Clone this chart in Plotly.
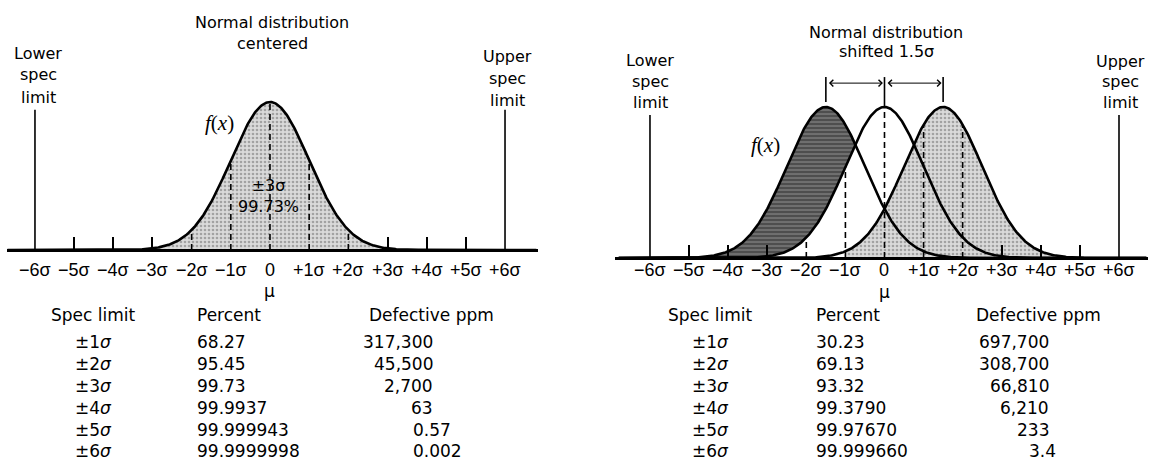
import numpy as np
import plotly.graph_objects as go

# ---------------- data ----------------
TICK_VALS = [-6, -5, -4, -3, -2, -1, 0, 1, 2, 3, 4, 5, 6]
TICK_TEXT = ["−6σ", "−5σ", "−4σ", "−3σ", "−2σ", "−1σ", "0",
             "+1σ", "+2σ", "+3σ", "+4σ", "+5σ", "+6σ"]
MINOR_TICKS = [-5, -4, -3, 3, 4, 5]

SPEC_LIMITS = ["±1<i>σ</i>", "±2<i>σ</i>", "±3<i>σ</i>",
               "±4<i>σ</i>", "±5<i>σ</i>", "±6<i>σ</i>"]
PCT_CENTERED = ["68.27", "95.45", "99.73", "99.9937", "99.999943", "99.9999998"]
PPM_CENTERED = ["317,300", "45,500", "2,700", "63", "0.57", "0.002"]
PCT_SHIFTED = ["30.23", "69.13", "93.32", "99.3790", "99.97670", "99.999660"]
PPM_SHIFTED = ["697,700", "308,700", "66,810", "6,210", "233", "3.4"]

SIGMA = 1.0
CENTER_MEAN = 0.0
SHIFT = 1.5
SHIFTED_MEANS = [-SHIFT, 0.0, SHIFT]
SPEC_LOWER, SPEC_UPPER = -6, 6
SHADE_CENTERED = [-3, 3]
DASH_CENTERED = [-2, -1, 0, 1, 2]
DASH_SHIFT_CENTER = [-2, -1, 0]
DASH_SHIFT_RIGHT = [1, 2]


def pdf(x, mu=0.0, s=SIGMA):
    return np.exp(-0.5 * ((x - mu) / s) ** 2) / (s * np.sqrt(2 * np.pi))


# ---------------- layout helpers ----------------
W, H = 1149, 465
def px(x):
    return x / W
def py(y):
    return 1 - y / H

SANS = "DejaVu Sans"
BLACK = "black"

fig = go.Figure()

# ================= LEFT PANEL =================
xl = np.linspace(-6.7, 6.8, 700)
xs = np.linspace(SHADE_CENTERED[0], SHADE_CENTERED[1], 300)
fig.add_trace(go.Scatter(
    x=np.concatenate([[xs[0]], xs, [xs[-1]]]),
    y=np.concatenate([[0], pdf(xs), [0]]),
    fill="toself", mode="lines", line=dict(width=0),
    fillcolor="#d6d6d6",
    fillpattern=dict(shape=".", fgcolor="#6a6a6a", bgcolor="#dadada", size=4, solidity=0.35),
    xaxis="x", yaxis="y", hoverinfo="skip", showlegend=False))
dx, dy = [], []
for v in DASH_CENTERED:
    dx += [v, v, None]
    dy += [0, pdf(v), None]
fig.add_trace(go.Scatter(x=dx, y=dy, mode="lines",
                         line=dict(color=BLACK, width=1.6, dash="6px,4px"),
                         xaxis="x", yaxis="y", showlegend=False, hoverinfo="skip"))
SPEC_TOP = 0.378
fig.add_trace(go.Scatter(x=[SPEC_LOWER, SPEC_LOWER, None, SPEC_UPPER, SPEC_UPPER],
                         y=[0, SPEC_TOP, None, 0, SPEC_TOP], mode="lines",
                         line=dict(color=BLACK, width=1.6),
                         xaxis="x", yaxis="y", showlegend=False, hoverinfo="skip"))
fig.add_trace(go.Scatter(x=xl, y=pdf(xl, CENTER_MEAN), mode="lines",
                         line=dict(color=BLACK, width=2.6),
                         xaxis="x", yaxis="y", showlegend=False, hoverinfo="skip"))

# ================= RIGHT PANEL =================
xr = np.linspace(-6.8, 6.7, 700)
m_left, m_mid, m_right = SHIFTED_MEANS
cross = (m_left + m_mid) / 2
xd = np.linspace(-4.8, cross, 300)
fig.add_trace(go.Scatter(
    x=np.concatenate([xd, xd[::-1]]),
    y=np.concatenate([pdf(xd, m_left), pdf(xd[::-1], m_mid)]),
    fill="toself", mode="lines", line=dict(width=0),
    fillcolor="#505050",
    fillpattern=dict(shape="-", fgcolor="#e0e0e0", bgcolor="#4e4e4e", size=4, solidity=0.22),
    xaxis="x2", yaxis="y2", hoverinfo="skip", showlegend=False))
xlgt = np.linspace(-1, 5.0, 300)
fig.add_trace(go.Scatter(
    x=np.concatenate([[xlgt[0]], xlgt, [xlgt[-1]]]),
    y=np.concatenate([[0], pdf(xlgt, m_right), [0]]),
    fill="toself", mode="lines", line=dict(width=0),
    fillcolor="#d6d6d6",
    fillpattern=dict(shape=".", fgcolor="#6a6a6a", bgcolor="#dadada", size=4, solidity=0.35),
    xaxis="x2", yaxis="y2", hoverinfo="skip", showlegend=False))
dx, dy = [], []
for v in DASH_SHIFT_CENTER:
    dx += [v, v, None]
    dy += [0, pdf(v, m_mid), None]
for v in DASH_SHIFT_RIGHT:
    dx += [v, v, None]
    dy += [0, pdf(v, m_right), None]
fig.add_trace(go.Scatter(x=dx, y=dy, mode="lines",
                         line=dict(color=BLACK, width=1.6, dash="6px,4px"),
                         xaxis="x2", yaxis="y2", showlegend=False, hoverinfo="skip"))
fig.add_trace(go.Scatter(x=[SPEC_LOWER, SPEC_LOWER, None, SPEC_UPPER, SPEC_UPPER],
                         y=[0, SPEC_TOP, None, 0, SPEC_TOP], mode="lines",
                         line=dict(color=BLACK, width=1.6),
                         xaxis="x2", yaxis="y2", showlegend=False, hoverinfo="skip"))
PK_LO, PK_HI = 0.412, 0.478
fig.add_trace(go.Scatter(x=[m_left, m_left, None, m_mid, m_mid, None, m_right, m_right],
                         y=[PK_LO, PK_HI, None, pdf(0), PK_HI, None, PK_LO, PK_HI],
                         mode="lines", line=dict(color=BLACK, width=1.6),
                         xaxis="x2", yaxis="y2", showlegend=False, hoverinfo="skip"))
for m in SHIFTED_MEANS:
    fig.add_trace(go.Scatter(x=xr, y=pdf(xr, m), mode="lines",
                             line=dict(color=BLACK, width=2.6),
                             xaxis="x2", yaxis="y2", showlegend=False, hoverinfo="skip"))

# ---------------- axes ----------------
def xaxis_cfg(domain, rng, pos):
    return dict(domain=domain, range=rng, anchor="free", position=pos,
                showline=True, linecolor=BLACK, linewidth=2.6,
                showgrid=False, zeroline=False,
                tickmode="array", tickvals=TICK_VALS, showticklabels=False,
                ticks="",
                minor=dict(tickmode="array", tickvals=MINOR_TICKS, ticks="inside",
                           ticklen=12, tickwidth=1.6, tickcolor=BLACK, showgrid=False),
                fixedrange=True)

fig.update_layout(
    width=W, height=H, margin=dict(l=0, r=0, t=0, b=0),
    paper_bgcolor="white", plot_bgcolor="white",
    xaxis=xaxis_cfg([7 / W, 538 / W], [-6.714, 6.842], py(250)),
    xaxis2=xaxis_cfg([615 / W, 1148 / W], [-6.895, 6.742], py(258)),
    yaxis=dict(domain=[0, 1], range=[-0.5795, 0.6739], visible=False, fixedrange=True),
    yaxis2=dict(domain=[0, 1], range=[-0.5469, 0.6816], visible=False,
                anchor="x2", fixedrange=True),
    showlegend=False,
)

ann = []
def T(text, x, y, size=16, xanchor="center", family=SANS, xref="paper"):
    ann.append(dict(text=text, x=x, y=py(y), xref=xref, yref="paper",
                    xanchor=xanchor, yanchor="middle", showarrow=False,
                    font=dict(family=family, size=size, color=BLACK)))

# tick labels
for v, t in zip(TICK_VALS, TICK_TEXT):
    T(t, v, 270, size=18, xref="x", family="Liberation Sans")
    T(t, v, 270, size=18, xref="x2", family="Liberation Sans")

# left panel texts
T("Normal distribution", px(272), 22)
T("centered", px(272), 43)
for i, w in enumerate(["Lower", "spec", "limit"]):
    T(w, px(38), 53 + 22 * i)
for i, w in enumerate(["Upper", "spec", "limit"]):
    T(w, px(507), 57 + 21.5 * i)
T("<i>f</i>(<i>x</i>)", px(219), 123, size=21, family="Liberation Serif")
T("±3σ<br>99.73%", px(268), 196, size=16)
T("μ", 0, 291, size=17, xref="x")
# right panel texts
T("Normal distribution", px(886), 32)
T("shifted 1.5σ", px(886), 52)
for i, w in enumerate(["Lower", "spec", "limit"]):
    T(w, px(650), 60 + 21 * i)
for i, w in enumerate(["Upper", "spec", "limit"]):
    T(w, px(1120), 62 + 20 * i)
T("<i>f</i>(<i>x</i>)", px(765), 145, size=21, family="Liberation Serif")
T("μ", 0, 292, size=17, xref="x2")

ARROW_Y = 0.462
for a, b in [(m_left, m_mid), (m_mid, m_right)]:
    ann.append(dict(x=b - 0.04, y=ARROW_Y, ax=a + 0.04, ay=ARROW_Y,
                    xref="x2", yref="y2", axref="x2", ayref="y2",
                    showarrow=True, arrowhead=4, arrowside="end+start",
                    arrowsize=1.3, arrowwidth=1, arrowcolor=BLACK, text=""))

ROW_Y = [342, 364, 386, 408, 430, 451]
def table(spec_x, pct_x, ppm_hdr_x, ppm_r, pct, ppm):
    T("Spec limit", px(spec_x), 315, size=17)
    T("Percent", px(pct_x), 315, size=17, xanchor="left")
    T("Defective ppm", px(ppm_hdr_x), 315, size=17, xanchor="left")
    for yy, s, p, d in zip(ROW_Y, SPEC_LIMITS, pct, ppm):
        T(s, px(spec_x), yy, size=17)
        T(p, px(pct_x), yy, size=17, xanchor="left")
        if "." in d:
            T(d, px(ppm_r - 24), yy, size=17, xanchor="left")
        else:
            T(d, px(ppm_r), yy, size=17, xanchor="right")

table(93, 195, 367, 435, PCT_CENTERED, PPM_CENTERED)
table(710, 814, 974, 1051, PCT_SHIFTED, PPM_SHIFTED)

fig.update_layout(annotations=ann)
fig.write_html("out.html", config={"displayModeBar": False},
               post_script="document.body.style.margin='0';document.body.style.overflow='hidden';")
